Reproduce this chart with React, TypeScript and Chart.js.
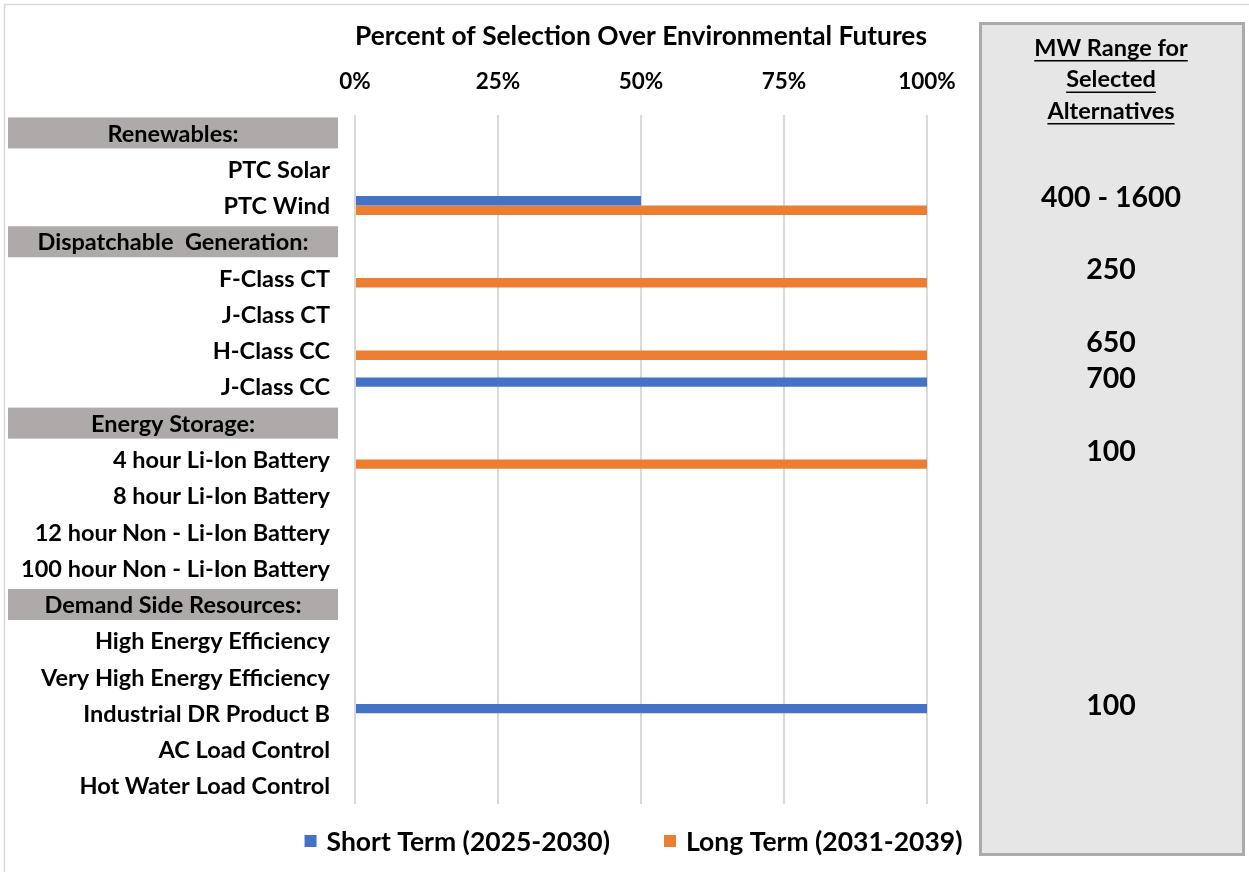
import React, { useEffect, useRef } from 'react';
import { Chart, registerables } from 'chart.js';

Chart.register(...registerables);

const categories = [
  'Renewables:',
  'PTC Solar',
  'PTC Wind',
  'Dispatchable  Generation:',
  'F-Class CT',
  'J-Class CT',
  'H-Class CC',
  'J-Class CC',
  'Energy Storage:',
  '4 hour Li-Ion Battery',
  '8 hour Li-Ion Battery',
  '12 hour Non - Li-Ion Battery',
  '100 hour Non - Li-Ion Battery',
  'Demand Side Resources:',
  'High Energy Efficiency',
  'Very High Energy Efficiency',
  'Industrial DR Product B',
  'AC Load Control',
  'Hot Water Load Control',
];
const headerRows = [true, false, false, true, false, false, false, false, true, false, false, false, false, true, false, false, false, false, false];
const shortTerm = [0, 0, 50, 0, 0, 0, 0, 100, 0, 0, 0, 0, 0, 0, 0, 0, 100, 0, 0];
const longTerm = [0, 0, 100, 0, 100, 0, 100, 0, 0, 100, 0, 0, 0, 0, 0, 0, 0, 0, 0];
const mwRange = ['', '', '400 - 1600', '', '250', '', '650', '700', '', '100', '', '', '', '', '', '', '100', '', ''];
const seriesLabels = ['Short Term (2025-2030)', 'Long Term (2031-2039)'];
const seriesColors = ['#4472C4', '#ED7D31'];
const xTitle = 'Percent of Selection Over Environmental Futures';
const panelTitle = ['MW Range for', 'Selected', 'Alternatives'];

const FONT = 'Lato, "Open Sans", sans-serif';

const decor = {
  id: 'decor',
  beforeDraw(chart: any) {
    const ctx = chart.ctx;
    const y = chart.scales.y;
    ctx.save();
    ctx.strokeStyle = '#D9D9D9';
    ctx.lineWidth = 1.5;
    ctx.strokeRect(4.5, 4.5, 1300, 900);
    ctx.fillStyle = '#E6E6E6';
    ctx.fillRect(980, 23, 264, 832);
    ctx.strokeStyle = '#AEAAAA';
    ctx.lineWidth = 3;
    ctx.strokeRect(980.5, 23.5, 263, 831);
    categories.forEach((c, i) => {
      if (headerRows[i]) {
        const yc = y.getPixelForValue(i);
        ctx.fillStyle = '#AEAAAA';
        ctx.fillRect(8, yc - 15.5, 330, 31);
      }
    });
    ctx.restore();
  },
  afterDraw(chart: any) {
    const ctx = chart.ctx;
    const y = chart.scales.y;
    ctx.save();
    ctx.fillStyle = '#000';
    ctx.textBaseline = 'middle';
    ctx.font = `bold 23.5px ${FONT}`;
    categories.forEach((c, i) => {
      const yc = y.getPixelForValue(i);
      if (headerRows[i]) {
        ctx.textAlign = 'center';
        ctx.fillText(c, 173, yc + 1);
      } else {
        ctx.textAlign = 'right';
        ctx.fillText(c, 330, yc + 1);
      }
    });
    // MW panel values
    ctx.textAlign = 'center';
    ctx.font = `bold 28.5px ${FONT}`;
    mwRange.forEach((m, i) => {
      if (m) {
        const yc = y.getPixelForValue(i);
        ctx.fillText(m, 1111, yc - 8);
      }
    });
    // panel title
    ctx.font = `bold 23.5px ${FONT}`;
    panelTitle.forEach((t, k) => {
      const ty = 48 + k * 31.5;
      ctx.fillText(t, 1111, ty);
      const w = ctx.measureText(t).width;
      ctx.fillRect(1111 - w / 2, ty + 12, w, 1.5);
    });
    // legend
    ctx.font = `bold 26.5px ${FONT}`;
    const box = 12;
    const gapBox = 10;
    const gapItem = 54;
    const widths = seriesLabels.map((l) => ctx.measureText(l).width);
    const total = widths.reduce((a, w) => a + box + gapBox + w, 0) + gapItem;
    let lx = 633.5 - total / 2;
    const ly = 841;
    ctx.textAlign = 'left';
    seriesLabels.forEach((l, k) => {
      ctx.fillStyle = seriesColors[k];
      ctx.fillRect(lx, ly - 6, box, box);
      ctx.fillStyle = '#000';
      ctx.fillText(l, lx + box + gapBox, ly + 1);
      lx += box + gapBox + widths[k] + gapItem;
    });
    ctx.restore();
  },
};

export default function App() {
  const ref = useRef<HTMLCanvasElement>(null);
  useEffect(() => {
    const chart = new Chart(ref.current as HTMLCanvasElement, {
      type: 'bar',
      data: {
        labels: categories,
        datasets: [
          { label: seriesLabels[0], data: shortTerm, backgroundColor: seriesColors[0] },
          { label: seriesLabels[1], data: longTerm, backgroundColor: seriesColors[1] },
        ],
      },
      options: {
        indexAxis: 'y',
        animation: false,
        responsive: false,
        maintainAspectRatio: false,
        layout: { padding: { left: 355, right: 322, top: 14, bottom: 68 } },
        datasets: { bar: { categoryPercentage: 0.52, barPercentage: 1 } },
        plugins: { legend: { display: false }, tooltip: { enabled: false } },
        scales: {
          y: { type: 'category', display: false, offset: true },
          x: {
            type: 'linear',
            position: 'top',
            min: 0,
            max: 100,
            afterFit(scale: any) {
              scale.paddingLeft = 0;
              scale.paddingRight = 0;
            },
            ticks: {
              stepSize: 25,
              color: '#000',
              padding: 20,
              maxRotation: 0,
              font: { family: FONT, size: 22.5, weight: 'bold' },
              callback: (v: any) => `${v}%`,
            },
            grid: { color: '#D9D9D9', lineWidth: 2, drawTicks: false },
            border: { display: false },
            title: {
              display: true,
              text: xTitle,
              color: '#000',
              font: { family: FONT, size: 26.5, weight: 'bold' },
              padding: { top: 7, bottom: -5 },
            },
          },
        },
      },
      plugins: [decor],
    } as any);
    return () => chart.destroy();
  }, []);
  return (
    <div style={{ position: 'fixed', left: 0, top: 0, width: 1249, height: 872, background: '#fff' }}>
      <canvas ref={ref} width={1249} height={872} style={{ width: 1249, height: 872 }} />
    </div>
  );
}
